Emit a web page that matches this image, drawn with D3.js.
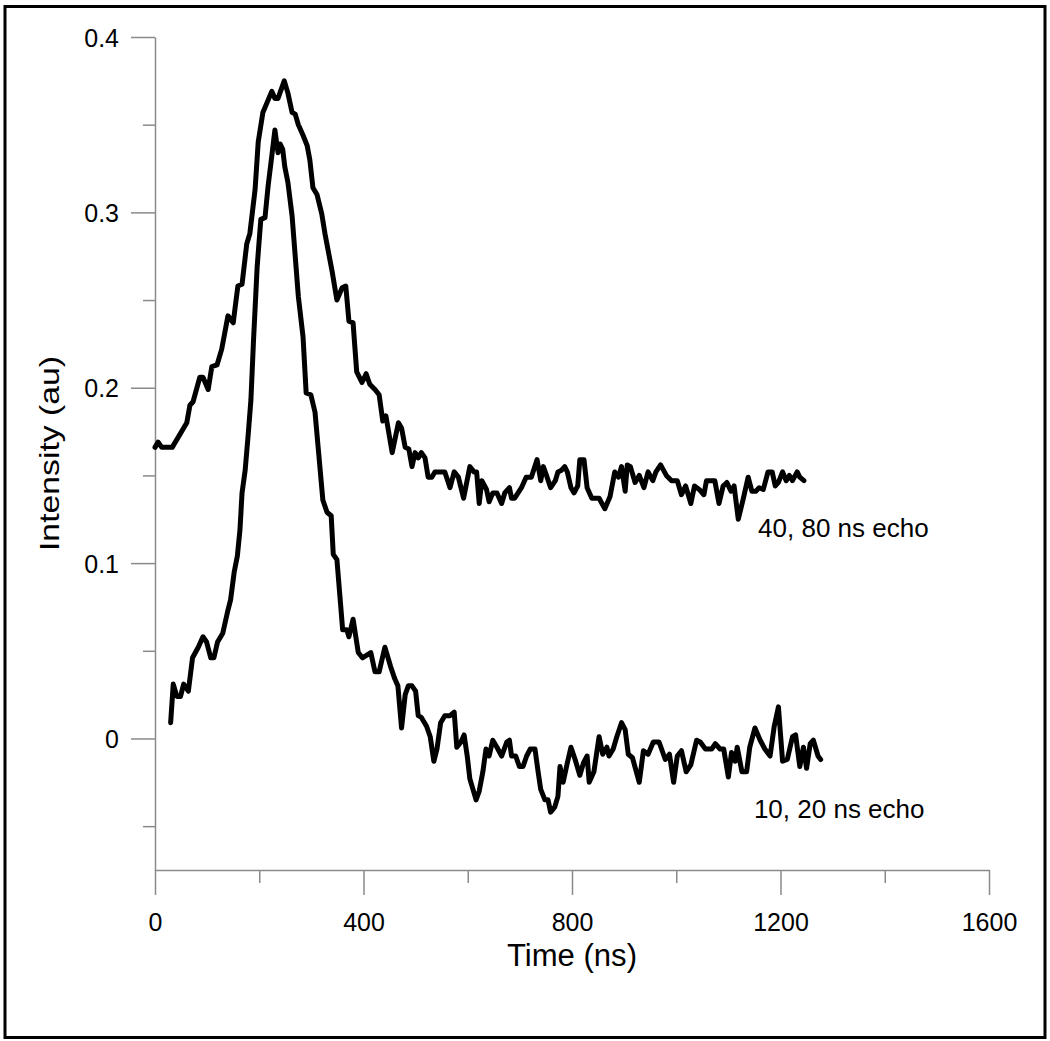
<!DOCTYPE html>
<html>
<head>
<meta charset="utf-8">
<script src="https://cdn.jsdelivr.net/npm/d3@7"></script>
<style>
  html, body { margin: 0; padding: 0; background: #fff; }
  svg { display: block; }
  text { font-family: "Liberation Sans", Arial, Helvetica, sans-serif; fill: #000; }
</style>
</head>
<body>
<svg id="chart" width="1050" height="1041"></svg>
<script>
// ---- data ----
const echo4080Time = [0,6,13,33,61,67,73,86,92,102,109,119,128,140,150,159,167,176,182,192,198,207,224,230,236,248,255,263,269,275,284,292,297,303,311,320,326,340,349,359,366,372,380,387,397,405,412,422,430,437,443,455,467,473,480,487,493,499,505,511,518,524,531,537,556,566,574,582,592,604,612,617,622,627,636,641,648,656,665,671,680,684,690,703,712,722,733,740,745,751,759,768,773,780,786,791,798,804,811,815,823,829,838,852,863,873,882,889,895,902,906,912,921,929,938,946,955,961,970,981,991,1002,1010,1018,1028,1035,1044,1053,1058,1074,1082,1090,1097,1105,1111,1119,1128,1138,1145,1153,1159,1167,1176,1184,1190,1196,1204,1211,1217,1223,1232,1237,1245];
const echo4080Value = [0.166,0.169,0.166,0.166,0.180,0.190,0.192,0.206,0.206,0.199,0.212,0.213,0.222,0.241,0.237,0.258,0.259,0.282,0.288,0.313,0.340,0.357,0.369,0.365,0.365,0.375,0.368,0.357,0.356,0.350,0.344,0.338,0.330,0.314,0.310,0.299,0.288,0.266,0.250,0.257,0.258,0.238,0.237,0.209,0.203,0.208,0.202,0.199,0.196,0.181,0.184,0.163,0.180,0.177,0.166,0.165,0.155,0.163,0.160,0.163,0.160,0.149,0.149,0.152,0.152,0.143,0.152,0.149,0.137,0.155,0.152,0.152,0.134,0.147,0.142,0.135,0.140,0.140,0.134,0.140,0.143,0.137,0.137,0.143,0.149,0.149,0.159,0.147,0.155,0.150,0.143,0.147,0.152,0.153,0.155,0.152,0.143,0.140,0.144,0.159,0.159,0.143,0.137,0.137,0.131,0.138,0.152,0.149,0.155,0.141,0.156,0.155,0.146,0.150,0.143,0.152,0.147,0.152,0.156,0.150,0.147,0.147,0.139,0.144,0.134,0.144,0.142,0.139,0.147,0.147,0.134,0.144,0.146,0.141,0.144,0.125,0.136,0.149,0.141,0.141,0.143,0.142,0.152,0.152,0.144,0.146,0.152,0.147,0.150,0.147,0.152,0.149,0.147];

const echo1020Time = [30,35,42,49,55,64,72,83,92,99,107,113,120,130,139,145,152,158,163,167,173,179,184,189,196,203,211,217,224,230,236,240,245,249,255,263,269,275,284,290,299,307,313,322,330,338,342,349,360,368,372,380,390,398,414,422,430,441,452,460,466,473,480,486,493,500,505,511,521,528,535,541,548,556,566,574,579,587,593,599,604,616,622,629,635,641,648,656,665,675,680,684,692,699,706,713,720,729,735,740,748,754,759,767,773,777,783,791,798,806,815,822,829,833,842,852,859,867,871,879,886,895,902,908,916,929,937,946,956,967,979,987,995,1002,1010,1019,1028,1039,1046,1056,1068,1075,1084,1091,1100,1106,1113,1117,1126,1135,1141,1151,1161,1170,1180,1188,1196,1204,1213,1223,1229,1237,1244,1250,1257,1263,1272,1277];
const echo1020Value = [0.009,0.031,0.024,0.024,0.031,0.027,0.046,0.052,0.058,0.055,0.046,0.046,0.055,0.060,0.072,0.079,0.095,0.104,0.119,0.140,0.153,0.174,0.193,0.227,0.269,0.296,0.297,0.315,0.332,0.347,0.334,0.339,0.336,0.326,0.317,0.298,0.275,0.252,0.229,0.197,0.196,0.186,0.166,0.136,0.129,0.127,0.105,0.102,0.062,0.062,0.058,0.068,0.049,0.046,0.049,0.038,0.038,0.052,0.041,0.034,0.030,0.006,0.025,0.030,0.030,0.027,0.013,0.012,0.007,0.001,-0.013,-0.006,0.009,0.013,0.013,0.015,-0.005,-0.002,0.002,-0.010,-0.023,-0.035,-0.030,-0.019,-0.006,-0.010,-0.001,-0.005,-0.010,-0.002,-0.001,-0.010,-0.010,-0.016,-0.016,-0.010,-0.006,-0.006,-0.019,-0.029,-0.035,-0.035,-0.042,-0.039,-0.033,-0.016,-0.025,-0.014,-0.005,-0.012,-0.021,-0.014,-0.010,-0.025,-0.019,0.001,-0.009,-0.005,-0.010,-0.006,0.001,0.009,0.005,-0.009,-0.011,-0.025,-0.007,-0.009,-0.002,-0.002,-0.012,-0.009,-0.025,-0.010,-0.007,-0.019,-0.015,-0.001,-0.002,-0.006,-0.006,-0.003,-0.006,-0.006,-0.022,-0.008,-0.013,-0.005,-0.019,-0.019,-0.005,0.006,-0.001,-0.006,-0.010,0.007,0.018,-0.013,-0.012,0.001,0.002,-0.016,-0.005,-0.017,-0.003,-0.001,-0.010,-0.012];

const xMajorTicks = [0, 400, 800, 1200, 1600];
const xMinorTicks = [200, 600, 1000, 1400];
const yMajorTicks = [0, 0.1, 0.2, 0.3, 0.4];
const yMinorTicks = [-0.05, 0.05, 0.15, 0.25, 0.35];
const yTickLabels = ["0", "0.1", "0.2", "0.3", "0.4"];

const seriesLabels = ["40, 80 ns echo", "10, 20 ns echo"];
const labelAnchorTime = [1157, 1149];
const labelAnchorValue = [0.115, -0.0455];

const xTitle = "Time (ns)";
const yTitle = "Intensity (au)";

// ---- drawing ----
const svg = d3.select("#chart");
svg.append("rect").attr("x", 5).attr("y", 6.5).attr("width", 1040).attr("height", 1031)
  .attr("fill", "#fff").attr("stroke", "#000").attr("stroke-width", 3);

const x = d3.scaleLinear().domain([0, 1600]).range([155, 989]);
const y = d3.scaleLinear().domain([-0.075, 0.4]).range([870, 37]);

const axisColor = "#8a8a8a";

// X axis
const gx = svg.append("g").attr("transform", `translate(0,${y(-0.075)})`);
gx.call(d3.axisBottom(x).tickValues(xMajorTicks).tickSize(25).tickSizeOuter(0).tickPadding(18)
  .tickFormat(d3.format("d")));
const gxMinor = svg.append("g").attr("transform", `translate(0,${y(-0.075)})`);
gxMinor.call(d3.axisBottom(x).tickValues(xMinorTicks).tickSize(13).tickSizeOuter(0).tickFormat(""));
gxMinor.select(".domain").remove();

// Y axis
const gy = svg.append("g").attr("transform", `translate(${x(0)},0)`);
gy.call(d3.axisLeft(y).tickValues(yMajorTicks).tickSize(24).tickSizeOuter(0).tickPadding(12)
  .tickFormat((d, i) => yTickLabels[i]));
const gyMinor = svg.append("g").attr("transform", `translate(${x(0)},0)`);
gyMinor.call(d3.axisLeft(y).tickValues(yMinorTicks).tickSize(12).tickSizeOuter(0).tickFormat(""));
gyMinor.select(".domain").remove();

svg.selectAll(".domain").attr("stroke", axisColor).attr("stroke-width", 1.5);
svg.selectAll(".tick line").attr("stroke", axisColor).attr("stroke-width", 1.5);
svg.selectAll(".tick text").attr("font-family", '"Liberation Sans", Arial, sans-serif')
  .attr("font-size", 25).attr("fill", "#000");
gx.selectAll(".tick text").attr("dy", "0.71em");
gy.selectAll(".tick text").attr("dy", "0.36em");

// Titles
svg.append("text").attr("x", (x(0) + x(1600)) / 2).attr("y", 966)
  .attr("text-anchor", "middle").attr("font-size", 31)
  .attr("textLength", 130).attr("lengthAdjust", "spacingAndGlyphs")
  .text(xTitle);
svg.append("text").attr("transform", `translate(59,${(y(0.4) + y(-0.075)) / 2}) rotate(-90)`)
  .attr("text-anchor", "middle").attr("font-size", 28)
  .attr("textLength", 195).attr("lengthAdjust", "spacingAndGlyphs")
  .text(yTitle);

// Lines
const line = d3.line().x(d => x(d[0])).y(d => y(d[1]));
const series = [
  d3.zip(echo4080Time, echo4080Value),
  d3.zip(echo1020Time, echo1020Value)
];
svg.append("g").selectAll("path").data(series).join("path")
  .attr("d", line).attr("fill", "none").attr("stroke", "#000")
  .attr("stroke-width", 5).attr("stroke-linejoin", "round").attr("stroke-linecap", "round");

// Series labels
svg.append("g").selectAll("text").data(seriesLabels).join("text")
  .attr("x", (d, i) => x(labelAnchorTime[i]))
  .attr("y", (d, i) => y(labelAnchorValue[i]))
  .attr("font-size", 26)
  .text(d => d);
</script>
</body>
</html>
